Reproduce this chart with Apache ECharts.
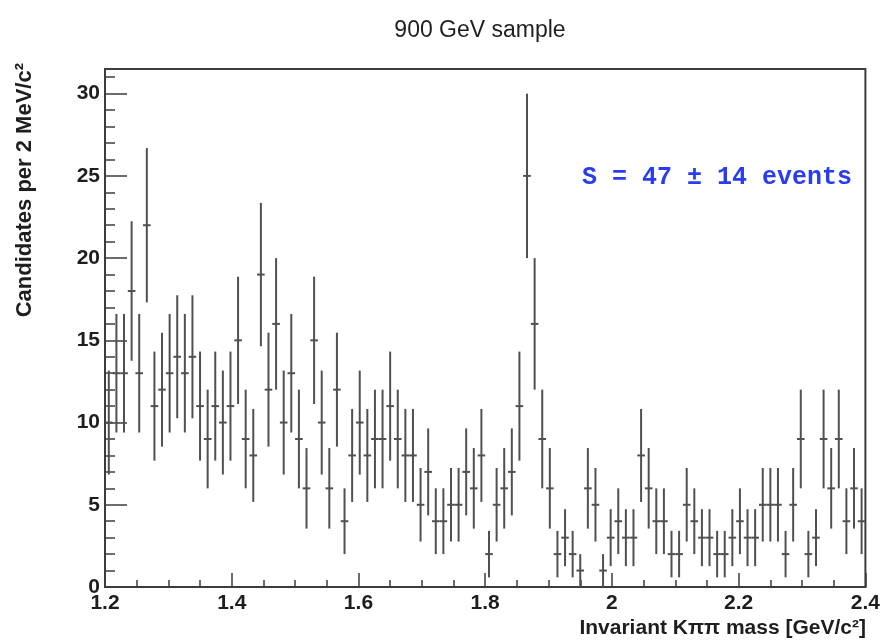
<!DOCTYPE html>
<html>
<head>
<meta charset="utf-8">
<script src="https://cdn.jsdelivr.net/npm/echarts@6/dist/echarts.min.js"></script>
<style>
    html, body { margin: 0; padding: 0; background: #fff; }
    #show_picture { width: 883px; height: 640px; }
</style>
</head>
<body>
<div id="show_picture"></div>
<script>
// histogram binning (GeV)
const binStart = 1.2;
const binWidth = 0.012;

// candidates per bin
const counts = [
    10, 13, 13, 18, 13, 22, 11, 12, 13, 14,
    13, 14, 11, 9, 11, 10, 11, 15, 9, 8,
    19, 12, 16, 10, 13, 9, 6, 15, 10, 6,
    12, 4, 8, 10, 8, 9, 9, 11, 9, 8,
    8, 5, 7, 4, 4, 5, 5, 7, 6, 8,
    2, 5, 6, 7, 11, 25, 16, 9, 6, 2,
    3, 2, 1, 6, 5, 1, 3, 4, 3, 3,
    8, 6, 4, 4, 2, 2, 5, 4, 3, 3,
    2, 2, 3, 4, 3, 3, 5, 5, 5, 2,
    5, 9, 2, 3, 9, 6, 9, 4, 6, 4
];

const yMajor = [0, 5, 10, 15, 20, 25, 30];

let myChart = echarts.init(document.getElementById('show_picture'));

let d = counts.map((c, i) => [binStart + (i + 0.5) * binWidth, c]);

const lineCol = '#3c3c3c';
const textCol = '#1e1e1e';

function drawBin(params, api) {
    let x = api.value(0);
    let n = api.value(1);
    if (n <= 0) return;
    let e = Math.sqrt(n); // poisson error
    let top = api.coord([x, n + e]);
    let bot = api.coord([x, n - e]);
    let l = api.coord([x - binWidth / 2, n]);
    let r = api.coord([x + binWidth / 2, n]);
    let st = { stroke: '#505050', lineWidth: 2 };
    return {
        type: 'group',
        children: [
            { type: 'line', shape: { x1: top[0], y1: top[1], x2: bot[0], y2: bot[1] }, style: st },
            { type: 'line', shape: { x1: l[0], y1: l[1], x2: r[0], y2: r[1] }, style: st }
        ]
    };
}

let labelFont = {
    fontFamily: 'Liberation Sans',
    fontWeight: 'bold',
    fontSize: 21,
    color: textCol
};

let option = {
    animation: false,
    grid: {
        left: 105, right: 17, top: 69, bottom: 53,
        show: true,
        borderColor: lineCol,
        borderWidth: 2
    },
    xAxis: [{
        type: 'value',
        min: 1.2, max: 2.4, interval: 0.2,
        axisLine: { show: true, onZero: false, lineStyle: { color: lineCol, width: 2 } },
        axisTick: { show: true, inside: true, length: 14, lineStyle: { color: lineCol, width: 1.5 } },
        minorTick: { show: true, splitNumber: 4, length: 7, lineStyle: { color: lineCol, width: 1.5 } },
        splitLine: { show: false },
        axisLabel: Object.assign({ margin: 6 }, labelFont)
    }],
    yAxis: [{
        type: 'value',
        min: 0, max: 31.5, interval: 1,
        axisLine: { show: true, onZero: false, lineStyle: { color: lineCol, width: 2 } },
        axisTick: { show: true, inside: true, length: 10, lineStyle: { color: lineCol, width: 1.5 } },
        splitLine: { show: false },
        axisLabel: { show: false }
    }, {
        type: 'value',
        position: 'left',
        min: 0, max: 31.5, interval: 5,
        axisLine: { show: false },
        axisTick: { show: true, inside: true, length: 22, lineStyle: { color: lineCol, width: 1.5 } },
        splitLine: { show: false },
        axisLabel: Object.assign({
            margin: 5,
            formatter: v => yMajor.indexOf(v) >= 0 ? String(v) : ''
        }, labelFont)
    }],
    graphic: [
        {
            type: 'text', x: 480, y: 31,
            style: { text: '900 GeV sample', align: 'center', verticalAlign: 'middle',
                fontFamily: 'Liberation Sans', fontSize: 23, fill: textCol }
        },
        {
            type: 'text', x: 582, y: 178,
            style: { text: 'S = 47 \u00b1 14 events', align: 'left', verticalAlign: 'middle',
                fontFamily: 'Liberation Mono', fontWeight: 'bold', fontSize: 25, fill: '#2a3cf2' }
        },
        {
            type: 'text', x: 25, y: 63, rotation: Math.PI / 2,
            style: { text: 'Candidates per 2 MeV/c\u00b2', align: 'right', verticalAlign: 'middle',
                fontFamily: 'Liberation Sans', fontWeight: 'bold', fontSize: 22, fill: textCol }
        },
        {
            type: 'text', x: 866, y: 628,
            style: { text: 'Invariant K\u03c0\u03c0 mass [GeV/c\u00b2]', align: 'right', verticalAlign: 'middle',
                fontFamily: 'Liberation Sans', fontWeight: 'bold', fontSize: 21, fill: textCol }
        }
    ],
    series: [{
        type: 'custom',
        xAxisIndex: 0,
        yAxisIndex: 0,
        renderItem: drawBin,
        data: d
    }]
};

option && myChart.setOption(option);
</script>
</body>
</html>
